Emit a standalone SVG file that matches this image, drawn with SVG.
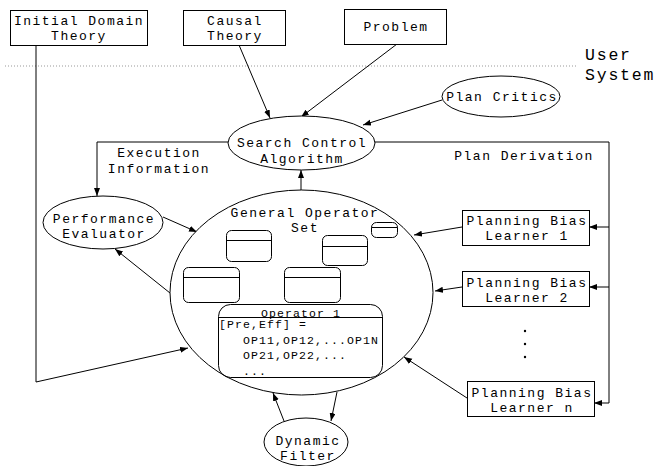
<svg xmlns="http://www.w3.org/2000/svg" width="658" height="466" viewBox="0 0 658 466">
<defs>
<marker id="ah" markerWidth="9" markerHeight="7" refX="8" refY="3" orient="auto" markerUnits="userSpaceOnUse">
<path d="M0,0 L8,3 L0,6 z" fill="#000"/>
</marker>
<style>
.b{fill:#fff;stroke:#000;stroke-width:1}
.e{fill:#fff;stroke:#000;stroke-width:1}
.c{fill:none;stroke:#000;stroke-width:1;marker-end:url(#ah)}
.l{fill:none;stroke:#000;stroke-width:1}
.r{fill:none;stroke:#000;stroke-width:1}
text{font-family:"Liberation Mono","DejaVu Sans Mono",monospace;font-size:13px;letter-spacing:1.5px;fill:#000}
.m{text-anchor:middle}
.s{font-size:11.5px;letter-spacing:1.1px}
.u{font-size:16.5px;letter-spacing:1.8px}
</style>
</defs>
<rect width="658" height="466" fill="#fff"/>
<line x1="5" y1="66" x2="577" y2="66" stroke="#999" stroke-width="1" stroke-dasharray="1,2"/>
<text x="585" y="60" class="u">User</text>
<text x="585" y="80" class="u">System</text>
<text x="159" y="157" class="m">Execution</text>
<text x="159" y="173" class="m">Information</text>
<text x="524" y="160" class="m">Plan Derivation</text>

<g id="connectors">
<line class="c" x1="239" y1="45" x2="270" y2="118"/>
<line class="c" x1="397" y1="44" x2="301" y2="117"/>
<line class="c" x1="442" y1="100" x2="363" y2="125"/>
<polyline class="c" points="228,142 97,142 97,196"/>
<polyline class="l" points="375,142 609,142 609,403"/>
<line class="c" x1="609" y1="227" x2="589" y2="227"/>
<line class="c" x1="609" y1="287" x2="589" y2="287"/>
<line class="c" x1="609" y1="403" x2="594" y2="403"/>
<line class="c" x1="301" y1="190" x2="301" y2="170"/>
<line class="c" x1="163" y1="217" x2="197" y2="232"/>
<line class="c" x1="170" y1="293" x2="115" y2="249"/>
<polyline class="c" points="36,45 36,382 188,348"/>
<line class="c" x1="462" y1="227" x2="414" y2="235"/>
<line class="c" x1="462" y1="287" x2="435" y2="291"/>
<line class="c" x1="467" y1="398" x2="404" y2="357"/>
<line class="c" x1="284" y1="421" x2="273" y2="393"/>
<line class="c" x1="337" y1="392" x2="331" y2="421"/>
</g>

<g id="initial-domain-theory">
<rect class="b" x="10.5" y="10.5" width="137" height="35"/>
<text x="79" y="25" class="m">Initial Domain</text>
<text x="79" y="40" class="m">Theory</text>
</g>
<g id="causal-theory">
<rect class="b" x="183.5" y="10.5" width="102" height="35"/>
<text x="235" y="25" class="m">Causal</text>
<text x="235" y="40" class="m">Theory</text>
</g>
<g id="problem">
<rect class="b" x="344.5" y="9.5" width="102" height="35"/>
<text x="396" y="31" class="m">Problem</text>
</g>
<g id="plan-critics">
<ellipse class="e" cx="501" cy="96.5" rx="59" ry="20.5"/>
<text x="502" y="101" class="m">Plan Critics</text>
</g>
<g id="search-control">
<ellipse class="e" cx="301.5" cy="143" rx="73.5" ry="27"/>
<text x="302" y="147" class="m">Search Control</text>
<text x="302" y="163" class="m">Algorithm</text>
</g>
<g id="performance-evaluator">
<ellipse class="e" cx="103" cy="222.5" rx="60" ry="26.5"/>
<text x="104" y="223" class="m">Performance</text>
<text x="104" y="238" class="m">Evaluator</text>
</g>
<g id="general-operator-set">
<ellipse class="e" cx="301.5" cy="292.5" rx="131.5" ry="102.5"/>
<text x="305" y="217" class="m">General Operator</text>
<text x="305" y="232" class="m">Set</text>
<rect class="r" x="226.5" y="230.5" width="45" height="31" rx="5"/>
<line class="r" x1="226.5" y1="240.5" x2="271.5" y2="240.5"/>
<rect class="r" x="322.5" y="235.5" width="45" height="30" rx="5"/>
<line class="r" x1="322.5" y1="246.5" x2="367.5" y2="246.5"/>
<rect class="r" x="371.5" y="222.5" width="26" height="15" rx="5"/>
<line class="r" x1="371.5" y1="227.5" x2="397.5" y2="227.5"/>
<rect class="r" x="183.5" y="267.5" width="56" height="35" rx="5"/>
<line class="r" x1="183.5" y1="277.5" x2="239.5" y2="277.5"/>
<rect class="r" x="284.5" y="267.5" width="56" height="35" rx="5"/>
<line class="r" x1="284.5" y1="277.5" x2="340.5" y2="277.5"/>
<rect class="r" x="218.5" y="304.5" width="164" height="73" rx="12"/>
<line class="r" x1="218.5" y1="317.5" x2="382.5" y2="317.5"/>
<text x="301" y="317" class="m s">Operator 1</text>
<text x="219" y="328" class="s">[Pre,Eff] =</text>
<text x="243" y="344" class="s">OP11,OP12,...OP1N</text>
<text x="243" y="359" class="s">OP21,OP22,...</text>
<text x="243" y="375" class="s">...</text>
</g>
<g id="learner-1">
<rect class="b" x="462.5" y="210.5" width="127" height="35"/>
<text x="527" y="225" class="m">Planning Bias</text>
<text x="527" y="240" class="m">Learner 1</text>
</g>
<g id="learner-2">
<rect class="b" x="462.5" y="271.5" width="127" height="35"/>
<text x="527" y="287" class="m">Planning Bias</text>
<text x="527" y="302" class="m">Learner 2</text>
</g>
<g id="dots">
<circle cx="525" cy="331" r="1.2" fill="#000"/>
<circle cx="525" cy="344" r="1.2" fill="#000"/>
<circle cx="525" cy="357" r="1.2" fill="#000"/>
</g>
<g id="learner-n">
<rect class="b" x="467.5" y="381.5" width="127" height="35"/>
<text x="532" y="397" class="m">Planning Bias</text>
<text x="532" y="412" class="m">Learner n</text>
</g>
<g id="dynamic-filter">
<ellipse class="e" cx="306" cy="442" rx="42" ry="24"/>
<text x="308" y="445" class="m">Dynamic</text>
<text x="308" y="460" class="m">Filter</text>
</g>
</svg>
